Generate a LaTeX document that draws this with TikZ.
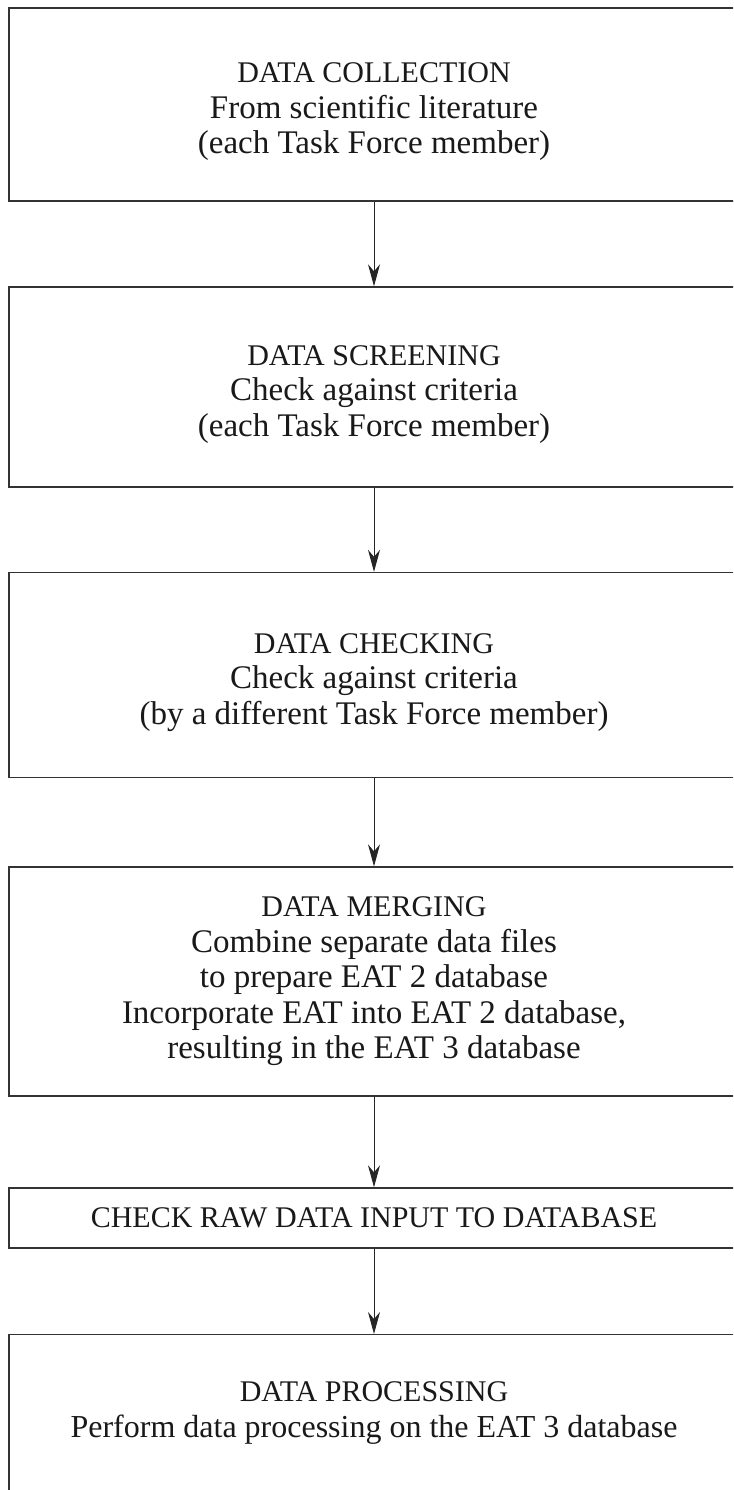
\documentclass[tikz,border=0pt]{standalone}
\usepackage{fontspec}
\setmainfont{Liberation Serif}
\usetikzlibrary{arrows.meta}
\newcommand\hdline[1]{{\fontsize{30}{35.5}\selectfont #1}}
\newcommand\toppad{\rule{0pt}{35pt}}
\begin{document}
\begin{tikzpicture}[x=1pt,y=-1pt,
  box/.style={draw=black!80, line width=1.4pt, rectangle, minimum width=730pt,
    inner sep=0pt, align=center, font=\fontsize{33}{35.5}\selectfont, text=black!90},
  arr/.style={draw=black!85, line width=1pt, -{Stealth[length=22pt,width=12pt,inset=7pt]}}]
\useasboundingbox (0,0) rectangle (733,1490);
\clip (0,0) rectangle (733,1490);
\fill[white] (0,0) rectangle (733,1490);
\node[box, minimum height=193pt] (b1) at (374,104.5)
  {\toppad\hdline{DATA COLLECTION}\\From scientific literature\\(each Task Force member)};
\node[box, minimum height=200pt] (b2) at (374,387)
  {\toppad\hdline{DATA SCREENING}\\Check against criteria\\(each Task Force member)};
\node[box, minimum height=205pt] (b3) at (374,675)
  {\toppad\hdline{DATA CHECKING}\\Check against criteria\\(by a different Task Force member)};
\node[box, minimum height=229pt] (b4) at (374,981.5)
  {\hdline{DATA MERGING}\\Combine separate data files\\to prepare EAT 2 database\\Incorporate EAT into EAT 2 database,\\resulting in the EAT 3 database};
\node[box, minimum height=60pt] (b5) at (374,1218)
  {\hdline{CHECK RAW DATA INPUT TO DATABASE}};
\node[box, minimum height=0pt, anchor=north, text height=102.5pt, text depth=200pt] (b6) at (374,1334)
  {\hdline{DATA PROCESSING}\\\fontsize{32}{35.5}\selectfont Perform data processing on the EAT 3 database};
\draw[arr] (b1.south) -- (b2.north);
\draw[arr] (b2.south) -- (b3.north);
\draw[arr] (b3.south) -- (b4.north);
\draw[arr] (b4.south) -- (b5.north);
\draw[arr] (b5.south) -- (b6.north);
\end{tikzpicture}
\end{document}
